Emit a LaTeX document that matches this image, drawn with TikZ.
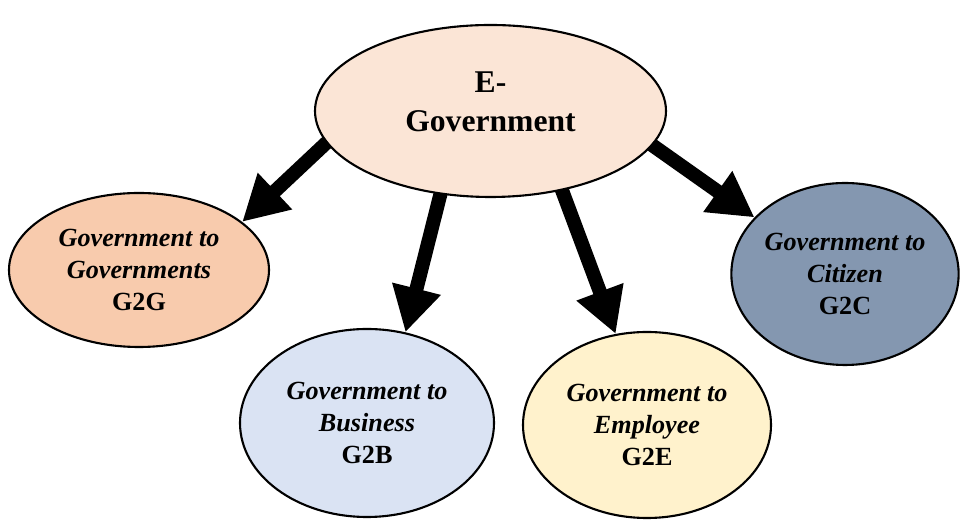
\documentclass[tikz,border=0pt]{standalone}
\usepackage{fontspec}
\setmainfont{Liberation Serif}
\usetikzlibrary{shapes.geometric,arrows.meta,backgrounds}

\definecolor{egovfill}{HTML}{FBE5D6}
\definecolor{gtgfill}{HTML}{F8CBAD}
\definecolor{gtbfill}{HTML}{DAE3F3}
\definecolor{gtefill}{HTML}{FFF2CC}
\definecolor{gtcfill}{HTML}{8497B0}

\newcommand{\govto}[2]{\textit{Government to}\\\textit{#1}\\#2}

\tikzset{
	branch/.style={ellipse, draw=black, line width=0.6pt, inner sep=0pt, align=center,
		font=\fontsize{7.45pt}{9.2pt}\selectfont\bfseries},
	feed/.style={line width=0.14cm, -{Triangle[length=0.45cm,width=0.47cm]}, shorten <=-0.12cm}
}

\begin{document}
\begin{tikzpicture}
			\useasboundingbox (0,0) rectangle (9.61,5.20);
			% centre and the four kinds of service
			\node[branch, fill=egovfill, minimum width=3.51cm, minimum height=1.72cm, text depth=0.18cm,
				font=\fontsize{9pt}{11.1pt}\selectfont\bfseries] (egov) at (4.905,4.09) {E-\\Government};
			\node[branch, fill=gtgfill, minimum width=2.60cm, minimum height=1.54cm] (g2g) at (1.39,2.50) {\govto{Governments}{G2G}};
			\node[branch, fill=gtbfill, minimum width=2.54cm, minimum height=1.88cm] (g2b) at (3.67,0.97) {\govto{Business}{G2B}};
			\node[branch, fill=gtefill, minimum width=2.48cm, minimum height=1.86cm] (g2e) at (6.47,0.95) {\govto{Employee}{G2E}};
			\node[branch, fill=gtcfill, minimum width=2.26cm, minimum height=1.82cm] (g2c) at (8.45,2.46) {\govto{Citizen}{G2C}};
			% arrows go under the centre ellipse
			\begin{pgfonlayer}{background}
				\draw[feed] (egov.191.8) -- (g2g.25.7);
				\draw[feed] (egov.239.6) -- (g2b.67.2);
				\draw[feed] (egov.312.4) -- (g2e.109.8);
				\draw[feed] (egov.348.5) -- (g2c.148.7);
			\end{pgfonlayer}
		\end{tikzpicture}
\end{document}
